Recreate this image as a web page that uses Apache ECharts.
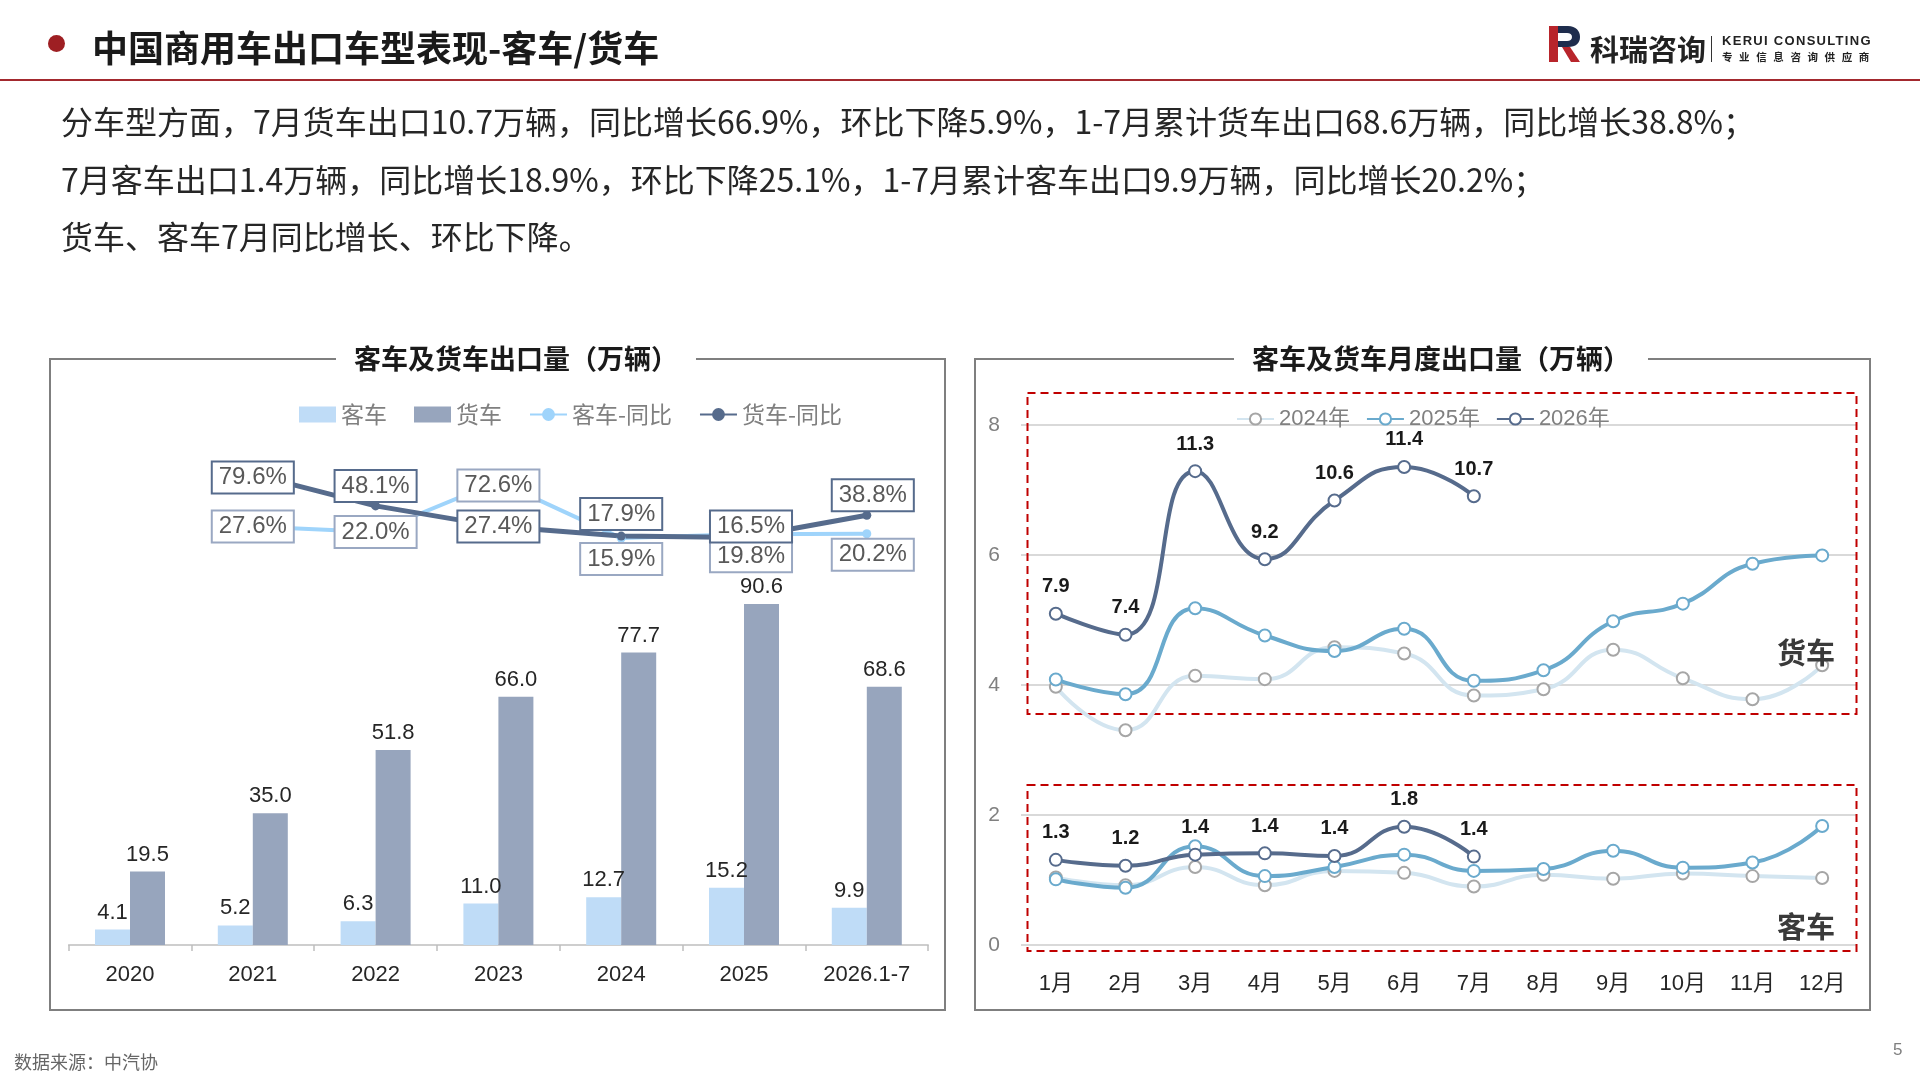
<!DOCTYPE html>
<html>
<head>
<meta charset="utf-8">
<title>中国商用车出口车型表现-客车/货车</title>
<style>
  body { margin: 0; width: 1920px; height: 1080px; background: #fff; font-family: "Noto Sans CJK SC", sans-serif; overflow: hidden; position: relative; }
  .abs { position: absolute; white-space: nowrap; }
  #dot { left: 48px; top: 35px; width: 17px; height: 17px; border-radius: 50%; background: #9e1f23; }
  #title { left: 92px; top: 22px; font-size: 36px; font-weight: bold; color: #1a1a1a; line-height: 48px; }
  #rule { left: 0; top: 79px; width: 1920px; height: 1.5px; background: #a3292e; }
  .para { left: 61px; font-size: 32px; color: #262626; line-height: 40px; }
  #brand { left: 1590px; top: 28px; font-size: 29px; font-weight: bold; color: #222; line-height: 40px; }
  #sep { left: 1711px; top: 36px; width: 1px; height: 26px; background: #333; }
  #en { left: 1722px; top: 33px; font-family: "Liberation Sans", sans-serif; font-size: 13px; font-weight: bold; color: #222; letter-spacing: 1.3px; }
  #cn { left: 1722px; top: 49px; font-size: 10.5px; font-weight: bold; color: #222; letter-spacing: 6.6px; }
  #src { left: 14px; top: 1048px; font-size: 18px; color: #666; }
  #page { left: 1893px; top: 1040px; font-family: "Liberation Sans", sans-serif; font-size: 17px; color: #7f7f7f; }
  #main { position: absolute; left: 0; top: 0; width: 1920px; height: 1080px; }
</style>
</head>
<body>
<div id="main"></div>
<div class="abs" id="dot"></div>
<div class="abs" id="title">中国商用车出口车型表现-客车/货车</div>
<div class="abs" id="rule"></div>
<svg class="abs" style="left:1549px;top:26px" width="32" height="36" viewBox="0 0 32 36">
  <rect x="0" y="0" width="9" height="36" fill="#b8252b"/>
  <path d="M9 0 H19 C27 0 31 5 31 11 C31 17 27 21 19 21 H9 V15 H18 C21 15 23 13.5 23 11 C23 8.5 21 7 18 7 H9 Z" fill="#1f2d4d"/>
  <path d="M13 21 L21 21 L31 36 L22 36 Z" fill="#b8252b"/>
</svg>
<div class="abs" id="brand">科瑞咨询</div>
<div class="abs" id="sep"></div>
<div class="abs" id="en">KERUI CONSULTING</div>
<div class="abs" id="cn">专业信息咨询供应商</div>
<div class="abs para" style="top:100px">分车型方面，7月货车出口10.7万辆，同比增长66.9%，环比下降5.9%，1-7月累计货车出口68.6万辆，同比增长38.8%；</div>
<div class="abs para" style="top:158px">7月客车出口1.4万辆，同比增长18.9%，环比下降25.1%，1-7月累计客车出口9.9万辆，同比增长20.2%；</div>
<div class="abs para" style="top:215px">货车、客车7月同比增长、环比下降。</div>
<div class="abs" id="src">数据来源：中汽协</div>
<div class="abs" id="page">5</div>

<script src="https://cdn.jsdelivr.net/npm/echarts/dist/echarts.min.js"></script>
<script>
// 年度出口（万辆）
var years = ['2020', '2021', '2022', '2023', '2024', '2025', '2026.1-7'];
var busAnnual = [4.1, 5.2, 6.3, 11.0, 12.7, 15.2, 9.9];
var truckAnnual = [19.5, 35.0, 51.8, 66.0, 77.7, 90.6, 68.6];
var busYoY = ['-', 27.6, 22.0, 72.6, 15.9, 19.8, 20.2];
var truckYoY = ['-', 79.6, 48.1, 27.4, 17.9, 16.5, 38.8];

// 月度出口（万辆）
var months = ['1月', '2月', '3月', '4月', '5月', '6月', '7月', '8月', '9月', '10月', '11月', '12月'];
var truck2024 = [6.16, 5.12, 6.42, 6.34, 7.10, 6.95, 5.95, 6.10, 7.04, 6.36, 5.86, 6.67];
var truck2025 = [6.33, 5.98, 8.03, 7.38, 7.01, 7.54, 6.30, 6.55, 7.72, 8.14, 9.09, 9.29];
var truck2026 = [7.9, 7.4, 11.3, 9.2, 10.6, 11.4, 10.7];
var bus2024 = [1.04, 0.92, 1.20, 0.92, 1.14, 1.11, 0.90, 1.08, 1.02, 1.10, 1.06, 1.03];
var bus2025 = [1.01, 0.88, 1.52, 1.06, 1.20, 1.39, 1.14, 1.17, 1.45, 1.19, 1.27, 1.83];
var bus2026 = [1.31, 1.22, 1.39, 1.41, 1.37, 1.82, 1.36];

// 同比标签的位置微调（样式，不是数据）
var busYoYShift = [[0, 0], [0, 0], [0, 0], [0, 4], [0, 21], [7, 22], [6, 21]];
var truckYoYShift = [[0, 0], [0, 3], [0, -20], [0, 0], [0, -22], [7, -11], [6, -20]];

var NUM = '"Liberation Sans", "Noto Sans CJK SC", sans-serif';
var CJK = '"Noto Sans CJK SC", sans-serif';

function yoyData(vals, shift) {
    return vals.map(function (v, i) {
        return { value: v, label: { offset: shift[i] } };
    });
}

function yoyLabel(border) {
    return {
        show: true,
        position: 'inside',
        formatter: function (p) { return Number(p.value).toFixed(1) + '%'; },
        backgroundColor: '#fff',
        borderColor: border,
        borderWidth: 2,
        padding: [4, 6, 2, 6],
        fontFamily: NUM,
        fontSize: 24,
        color: '#595959'
    };
}

function monthLine(name, data, lineColor, dotColor, axis, withLabel) {
    return {
        name: name,
        type: 'line',
        xAxisIndex: 1,
        yAxisIndex: axis,
        data: data,
        smooth: true,
        symbol: 'emptyCircle',
        symbolSize: 12,
        showAllSymbol: true,
        lineStyle: { color: lineColor, width: 4 },
        itemStyle: { color: dotColor, borderWidth: 1.5 },
        label: {
            show: withLabel,
            position: 'top',
            distance: 10,
            formatter: function (p) { return Number(p.value).toFixed(1); },
            fontFamily: '"Liberation Sans Narrow", "Liberation Sans", sans-serif',
            fontWeight: 'bold',
            fontSize: 20,
            color: '#1a1a1a'
        },
        emphasis: { disabled: true }
    };
}

var myChart = echarts.init(document.getElementById('main'));

var option = {
    animation: false,
    legend: [{
        left: 294,
        top: 398,
        itemWidth: 37,
        itemHeight: 16,
        itemGap: 27,
        textStyle: { fontFamily: CJK, fontSize: 23, color: '#808080' },
        data: [
            { name: '客车', icon: 'rect' },
            { name: '货车', icon: 'rect' },
            { name: '客车-同比' },
            { name: '货车-同比' }
        ]
    }, {
        left: 1231,
        top: 403,
        itemWidth: 37,
        itemHeight: 14,
        itemGap: 16,
        textStyle: { fontFamily: NUM, fontSize: 22, color: '#808080' },
        data: ['2024年', '2025年', '2026年']
    }],
    grid: [
        { left: 68.6, right: 991.8, top: 437, bottom: 135 },
        { left: 1021, right: 63, top: 425, bottom: 135 }
    ],
    xAxis: [{
        type: 'category',
        gridIndex: 0,
        data: years,
        axisLine: { lineStyle: { color: '#bfbfbf', width: 1.5 } },
        axisTick: { show: true, length: 6, lineStyle: { color: '#bfbfbf', width: 1.5 } },
        axisLabel: { fontFamily: NUM, fontSize: 22, color: '#262626', margin: 19 }
    }, {
        type: 'category',
        gridIndex: 1,
        data: months,
        axisLine: { show: false },
        axisTick: { show: false },
        axisLabel: { fontFamily: NUM, fontSize: 22, color: '#262626', margin: 28 }
    }],
    yAxis: [{
        type: 'value', gridIndex: 0, min: 0, max: 135, show: false
    }, {
        type: 'value', gridIndex: 0, min: -391, max: 117, show: false
    }, {
        type: 'value', gridIndex: 1, min: 0, max: 8, interval: 2,
        axisLine: { show: false },
        axisTick: { show: false },
        axisLabel: { fontFamily: NUM, fontSize: 21, color: '#808080', margin: 21 },
        splitLine: { lineStyle: { color: '#d9d9d9', width: 2 } }
    }, {
        type: 'value', gridIndex: 1, min: 0, max: 12.4, show: false
    }],
    series: [{
        name: '客车',
        type: 'bar',
        xAxisIndex: 0,
        yAxisIndex: 0,
        data: busAnnual,
        barWidth: 35,
        barGap: '0%',
        itemStyle: { color: '#bfdcf7' },
        label: {
            show: true, position: 'top', distance: 6,
            formatter: function (p) { return p.value.toFixed(1); },
            fontFamily: NUM, fontSize: 22, color: '#262626'
        }
    }, {
        name: '货车',
        type: 'bar',
        xAxisIndex: 0,
        yAxisIndex: 0,
        data: truckAnnual,
        barWidth: 35,
        itemStyle: { color: '#97a5bd' },
        label: {
            show: true, position: 'top', distance: 6,
            formatter: function (p) { return p.value.toFixed(1); },
            fontFamily: NUM, fontSize: 22, color: '#262626'
        }
    }, {
        name: '客车-同比',
        type: 'line',
        xAxisIndex: 0,
        yAxisIndex: 1,
        data: yoyData(busYoY, busYoYShift),
        symbol: 'circle',
        symbolSize: 9,
        lineStyle: { color: '#9fd4fb', width: 4 },
        itemStyle: { color: '#9fd4fb' },
        label: yoyLabel('#9aa8c2')
    }, {
        name: '货车-同比',
        type: 'line',
        xAxisIndex: 0,
        yAxisIndex: 1,
        data: yoyData(truckYoY, truckYoYShift),
        symbol: 'circle',
        symbolSize: 9,
        lineStyle: { color: '#566b8c', width: 5 },
        itemStyle: { color: '#566b8c' },
        label: yoyLabel('#566b8c')
    },
    monthLine('2024年', truck2024, '#d3e5f0', '#a6a6a6', 3, false),
    monthLine('2025年', truck2025, '#6aaacd', '#6aaacd', 3, false),
    monthLine('2026年', truck2026, '#566b8c', '#566b8c', 3, true),
    monthLine('2024年', bus2024, '#d3e5f0', '#a6a6a6', 2, false),
    monthLine('2025年', bus2025, '#6aaacd', '#6aaacd', 2, false),
    monthLine('2026年', bus2026, '#566b8c', '#566b8c', 2, true)
    ],
    graphic: [
        // 两个面板边框
        { type: 'rect', z: 1, shape: { x: 50, y: 359, width: 895, height: 651 },
          style: { fill: 'none', stroke: '#7f7f7f', lineWidth: 2 } },
        { type: 'rect', z: 1, shape: { x: 975, y: 359, width: 895, height: 651 },
          style: { fill: 'none', stroke: '#7f7f7f', lineWidth: 2 } },
        { type: 'text', z: 5, style: {
            text: '客车及货车出口量（万辆）', x: 516, y: 359, align: 'center', verticalAlign: 'middle',
            font: 'bold 27px "Noto Sans CJK SC"', fill: '#1a1a1a', backgroundColor: '#fff', padding: [4, 18] } },
        { type: 'text', z: 5, style: {
            text: '客车及货车月度出口量（万辆）', x: 1441, y: 359, align: 'center', verticalAlign: 'middle',
            font: 'bold 27px "Noto Sans CJK SC"', fill: '#1a1a1a', backgroundColor: '#fff', padding: [4, 18] } },
        // 红色虚线框
        { type: 'rect', z: 2, shape: { x: 1027.5, y: 393, width: 829, height: 321 },
          style: { fill: 'none', stroke: '#c00000', lineWidth: 2, lineDash: [8, 5] } },
        { type: 'rect', z: 2, shape: { x: 1027.5, y: 785, width: 829, height: 166 },
          style: { fill: 'none', stroke: '#c00000', lineWidth: 2, lineDash: [8, 5] } },
        { type: 'text', z: 5, style: {
            text: '货车', x: 1806, y: 653, align: 'center', verticalAlign: 'middle',
            font: 'bold 29px "Noto Sans CJK SC"', fill: '#3a3a3a' } },
        { type: 'text', z: 5, style: {
            text: '客车', x: 1806, y: 927, align: 'center', verticalAlign: 'middle',
            font: 'bold 29px "Noto Sans CJK SC"', fill: '#3a3a3a' } }
    ]
};

myChart.setOption(option);
</script>
</body>
</html>
